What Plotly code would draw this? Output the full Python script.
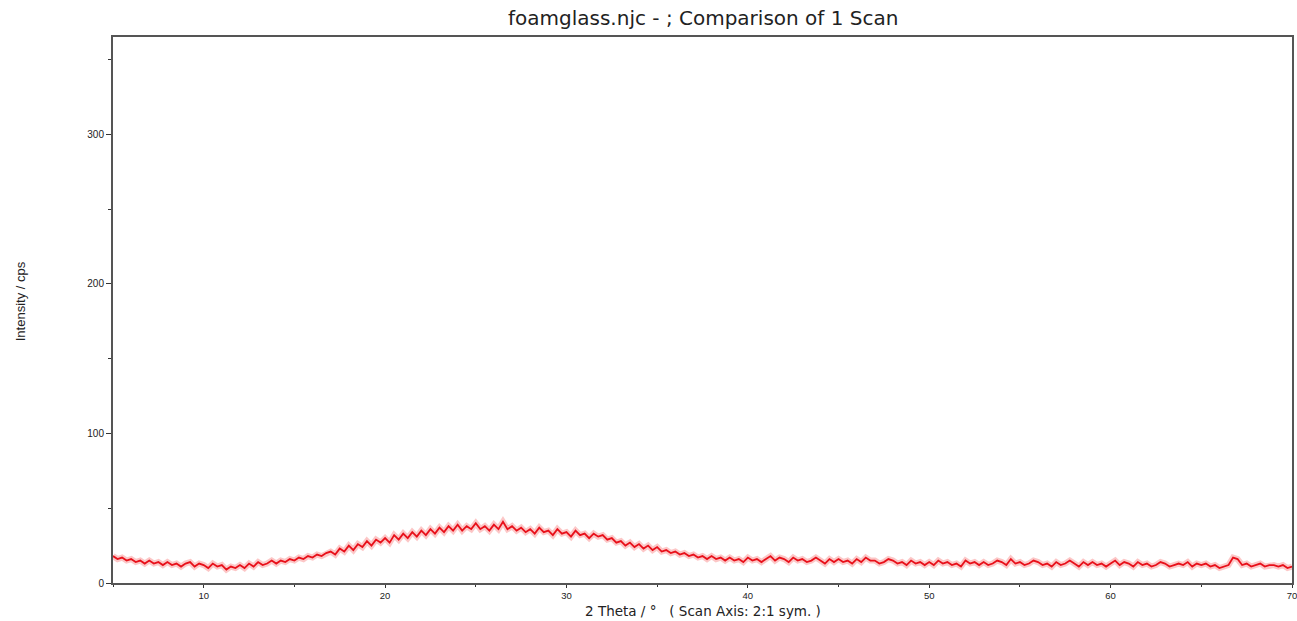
import plotly.graph_objects as go

theta_start = 5.0
theta_step = 0.25
intensity = [
    18, 16, 17, 15,  16, 14, 15, 13,  15, 13, 14, 12,  14, 12, 13, 11,  13, 14, 11, 13,
    12, 10, 13, 11,  12, 9, 11, 10,  12, 10, 13, 11,  14, 12, 13, 15,  13, 15, 14, 16,
    15, 17, 16, 18,  17, 19, 18, 20,  21, 19, 23, 21,  25, 22, 26, 24,  28, 25, 29, 27,
    30, 27, 32, 29,  33, 30, 34, 31,  35, 32, 36, 33,  37, 34, 38, 35,  39, 35, 38, 36,
    40, 36, 38, 35,  39, 36, 41, 36,  38, 35, 37, 34,  36, 33, 37, 34,  35, 32, 36, 33,
    34, 31, 35, 32,  33, 30, 33, 31,  32, 29, 30, 27,  28, 25, 27, 24,  26, 23, 25, 22,
    24, 21, 22, 20,  21, 19, 20, 18,  19, 17, 18, 16,  18, 16, 17, 15,  17, 15, 16, 14,
    17, 15, 16, 14,  16, 18, 15, 17,  16, 14, 17, 15,  16, 14, 15, 17,  15, 13, 16, 14,
    16, 14, 15, 13,  16, 14, 17, 15,  15, 13, 14, 16,  15, 13, 14, 12,  15, 13, 14, 12,
    14, 12, 15, 13,  14, 12, 13, 11,  15, 13, 14, 12,  14, 12, 13, 15,  14, 12, 16, 13,
    14, 12, 13, 15,  14, 12, 13, 11,  14, 12, 13, 15,  13, 11, 14, 12,  14, 12, 13, 11,
    13, 15, 12, 14,  13, 11, 14, 12,  13, 11, 12, 14,  13, 11, 12, 13,  12, 14, 11, 13,
    12, 13, 11, 12,  10, 11, 12, 17,  16, 12, 13, 11,  12, 13, 11, 12,  12, 11, 12, 10,
    11,
]
two_theta = [theta_start + theta_step * i for i in range(len(intensity))]

x_ticks = [10, 20, 30, 40, 50, 60, 70]
y_ticks = [0, 100, 200, 300]

title_text = "foamglass.njc - ; Comparison of 1 Scan"
x_title = "2 Theta / °   ( Scan Axis: 2:1 sym. )"
y_title = "Intensity / cps"

fig = go.Figure()
fig.add_trace(go.Scatter(x=two_theta, y=intensity, mode="lines",
                         line=dict(color="rgba(245,70,70,0.3)", width=6),
                         hoverinfo="skip", showlegend=False))
fig.add_trace(go.Scatter(x=two_theta, y=intensity, mode="lines",
                         line=dict(color="#e8101a", width=1.8),
                         showlegend=False))

axis_common = dict(showgrid=False, zeroline=False, showline=True, linecolor="#555555",
                   linewidth=2, mirror=True, ticks="outside", tickwidth=1,
                   tickcolor="#333333", ticklabeloverflow="allow")

fig.update_xaxes(range=[5, 70], tickvals=x_ticks, ticktext=[str(v) for v in x_ticks],
                 ticklen=3, tickfont=dict(family="Liberation Sans", size=9.5, color="#222222"),
                 minor=dict(ticks="outside", ticklen=2, dtick=5, tick0=5, tickcolor="#333333"),
                 **axis_common)
fig.update_yaxes(range=[0, 365], tickvals=y_ticks, ticktext=[str(v) for v in y_ticks],
                 ticklen=5, tickfont=dict(family="Liberation Sans", size=10, color="#222222"),
                 minor=dict(ticks="outside", ticklen=3, dtick=50, tick0=0, tickcolor="#333333"),
                 **axis_common)

fig.update_layout(
    width=1297, height=621,
    margin=dict(l=113, r=5, t=37, b=38, autoexpand=False),
    paper_bgcolor="white", plot_bgcolor="white",
    annotations=[
        dict(text=title_text, xref="paper", yref="paper", x=0.5, y=1, yshift=19,
             xanchor="center", yanchor="middle", showarrow=False,
             font=dict(family="DejaVu Sans", size=20, color="#222222")),
        dict(text=x_title, xref="paper", yref="paper", x=0.5, y=0, yshift=-28,
             xanchor="center", yanchor="middle", showarrow=False,
             font=dict(family="DejaVu Sans", size=13.5, color="#222222")),
        dict(text=y_title, xref="paper", yref="paper", x=0, xshift=-93, y=0.516,
             xanchor="center", yanchor="middle", textangle=-90, showarrow=False,
             font=dict(family="Liberation Sans Narrow, Liberation Sans", size=13, color="#222222")),
    ],
)

# remove the default page margin so the 1297x621 figure fills the window exactly
fig.write_html("out.html", config={"displayModeBar": False},
               post_script="document.body.style.margin='0';")
